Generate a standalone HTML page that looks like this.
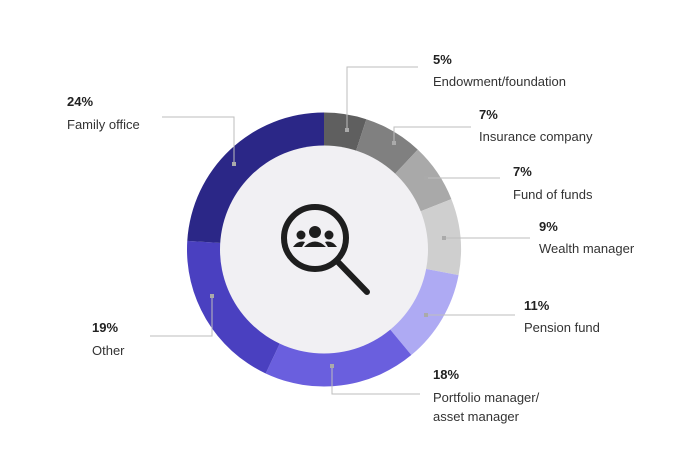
<!DOCTYPE html>
<html><head><meta charset="utf-8"><style>
html,body{margin:0;padding:0;background:#fff;}
svg text{font-family:"Liberation Sans",sans-serif;}
.p{font-size:13px;font-weight:bold;fill:#222;}
.l{font-size:13px;fill:#333;}
.ln{stroke:#bdbdbd;stroke-width:1;fill:none;}
.d{fill:#aaa;}
</style></head><body>
<svg id="s" width="700" height="465" viewBox="0 0 700 465" xmlns="http://www.w3.org/2000/svg">
<g id="arcs"></g>
<circle cx="324" cy="249.5" r="104" fill="#f1f0f3"/>
<!-- icon -->
<circle cx="315" cy="238" r="31" fill="none" stroke="#1e1e1e" stroke-width="6"/>
<line x1="338" y1="262" x2="367" y2="292" stroke="#1e1e1e" stroke-width="6" stroke-linecap="round"/>
<circle cx="315" cy="232" r="6" fill="#1e1e1e"/>
<circle cx="301" cy="235" r="4.5" fill="#1e1e1e"/>
<circle cx="329" cy="235" r="4.5" fill="#1e1e1e"/>
<path d="M304 247 Q315 236 326 247 Z" fill="#1e1e1e"/>
<path d="M293 247 Q298 240 305 242 L302 247 Z" fill="#1e1e1e"/>
<path d="M337 247 Q332 240 325 242 L328 247 Z" fill="#1e1e1e"/>
<!-- leaders -->
<polyline class="ln" points="347,130 347,67 418,67"/>
<polyline class="ln" points="394,143 394,127 471,127"/>
<polyline class="ln" points="426,178 500,178"/>
<polyline class="ln" points="444,238 530,238"/>
<polyline class="ln" points="426,315 515,315"/>
<polyline class="ln" points="332,366 332,394 420,394"/>
<polyline class="ln" points="212,296 212,336 150,336"/>
<polyline class="ln" points="234,164 234,117 162,117"/>
<rect class="d" x="345" y="128" width="4" height="4"/>
<rect class="d" x="392" y="141" width="4" height="4"/>
<rect class="d" x="424" y="176" width="4" height="4"/>
<rect class="d" x="442" y="236" width="4" height="4"/>
<rect class="d" x="424" y="313" width="4" height="4"/>
<rect class="d" x="330" y="364" width="4" height="4"/>
<rect class="d" x="210" y="294" width="4" height="4"/>
<rect class="d" x="232" y="162" width="4" height="4"/>
<!-- labels -->
<text class="p" x="433" y="64">5%</text><text class="l" x="433" y="86">Endowment/foundation</text>
<text class="p" x="479" y="119">7%</text><text class="l" x="479" y="141">Insurance company</text>
<text class="p" x="513" y="176">7%</text><text class="l" x="513" y="199">Fund of funds</text>
<text class="p" x="539" y="231">9%</text><text class="l" x="539" y="253">Wealth manager</text>
<text class="p" x="524" y="310">11%</text><text class="l" x="524" y="332">Pension fund</text>
<text class="p" x="433" y="379">18%</text><text class="l" x="433" y="402">Portfolio manager/</text><text class="l" x="433" y="421">asset manager</text>
<text class="p" x="92" y="332">19%</text><text class="l" x="92" y="355">Other</text>
<text class="p" x="67" y="106">24%</text><text class="l" x="67" y="129">Family office</text>
</svg>
<script>
var d=[[5,"#5f5f5f"],[7,"#808080"],[7,"#a9a9a9"],[9,"#cfcfcf"],[11,"#aeaaf3"],[18,"#6a5fde"],[19,"#4a40c0"],[24,"#2b2787"]];
var cx=324,cy=249.5,R=137,r=103,a=0,s="";
function pt(rad,ang){var t=ang/100*2*Math.PI;return [cx+rad*Math.sin(t),cy-rad*Math.cos(t)];}
d.forEach(function(e){var b=a+e[0];var p1=pt(R,a),p2=pt(R,b),p3=pt(r,b),p4=pt(r,a);var lg=e[0]>50?1:0;
s+='<path fill="'+e[1]+'" d="M'+p1+' A'+R+' '+R+' 0 '+lg+' 1 '+p2+' L'+p3+' A'+r+' '+r+' 0 '+lg+' 0 '+p4+' Z"/>';a=b;});
document.getElementById("arcs").innerHTML=s;
</script>
</body></html>
